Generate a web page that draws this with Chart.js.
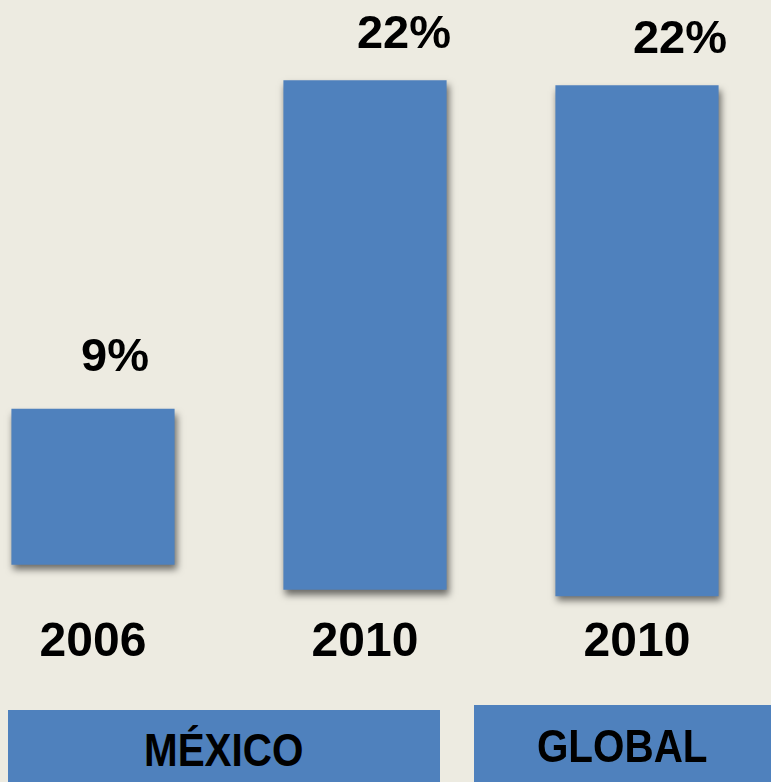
<!DOCTYPE html>
<html>
<head>
<meta charset="utf-8">
<script src="https://cdn.jsdelivr.net/npm/chart.js@4"></script>
<style>
  html, body { margin: 0; padding: 0; background: #edebe1; overflow: hidden; }
  body { width: 771px; height: 782px; position: relative; }
  #wrap { position: absolute; left: -43px; top: 0; width: 816px; height: 782px; }
  .group {
    position: absolute; background: #4f81bd; color: #000; text-align: center;
    font-family: 'Liberation Sans Narrow', 'Liberation Sans', sans-serif;
    font-weight: bold; font-size: 47px; box-sizing: border-box;
  }
  .group span { display: inline-block; transform: scaleX(0.86); }
  #g-mx { left: 8px; top: 710px; width: 432px; height: 72px; line-height: 72px; padding-top: 4px; }
  #g-gl { left: 474px; top: 705px; width: 297px; height: 77px; line-height: 77px; padding-top: 2px; }
</style>
</head>
<body>
<div id="wrap"><canvas id="chart" width="816" height="782"></canvas></div>
<div class="group" id="g-mx"><span>MÉXICO</span></div>
<div class="group" id="g-gl"><span>GLOBAL</span></div>
<script>
const years    = ['2006', '2010', '2010']
const groups   = ['MÉXICO', 'MÉXICO', 'GLOBAL']
const pct      = [9, 22, 22]
// bars as drawn in the slide: they don't share a baseline
const barLow   = [2.8, 1.8, 1.55]
const barHigh  = [9, 22.05, 21.85]

const BLUE = '#4f81bd'

// drop shadow under the bars (border must be 0, BarElement clips when it has one)
const shadowPlugin = {
  id: 'barShadow',
  beforeDatasetsDraw(chart) {
    const ctx = chart.ctx
    ctx.save()
    ctx.shadowColor = 'rgba(0,0,0,0.55)'
    ctx.shadowBlur = 7
    ctx.shadowOffsetX = 2
    ctx.shadowOffsetY = 5
  },
  afterDatasetsDraw(chart) {
    chart.ctx.restore()
  }
}

const pctLabels = {
  id: 'pctLabels',
  afterDraw(chart, args, opts) {
    const ctx = chart.ctx
    const meta = chart.getDatasetMeta(0)
    ctx.save()
    ctx.font = 'bold 47px "Liberation Sans", Arial, sans-serif'
    ctx.fillStyle = '#000'
    ctx.textAlign = 'center'
    ctx.textBaseline = 'alphabetic'
    meta.data.forEach((bar, i) => {
      const top = Math.min(bar.y, bar.base)
      ctx.fillText(pct[i] + '%', bar.x + opts.dx[i], top - opts.dy[i])
    })
    ctx.restore()
  }
}

new Chart(document.getElementById('chart'), {
  type: 'bar',
  data: {
    labels: years,
    datasets: [{
      data: years.map((_, i) => [barLow[i], barHigh[i]]),
      backgroundColor: BLUE,
      borderWidth: 0,
      barPercentage: 0.6,
      categoryPercentage: 1,
    }]
  },
  options: {
    responsive: false,
    animation: false,
    devicePixelRatio: 1,
    layout: { padding: { top: 6, left: 0, right: 0, bottom: 0 } },
    plugins: {
      legend: { display: false },
      tooltip: { enabled: false },
      pctLabels: { dx: [22, 39, 43], dy: [38, 32, 32] },
    },
    scales: {
      x: {
        grid: { display: false, drawTicks: false },
        border: { display: false },
        ticks: {
          color: '#000',
          padding: 4,
          maxRotation: 0,
          font: { family: '"Liberation Sans", Arial, sans-serif', size: 48, weight: 'bold' },
        },
        afterFit(scale) { scale.height = 172 },
      },
      y: {
        display: false,
        min: 1,
        max: 25,
      }
    }
  },
  plugins: [shadowPlugin, pctLabels]
})
</script>
</body>
</html>
